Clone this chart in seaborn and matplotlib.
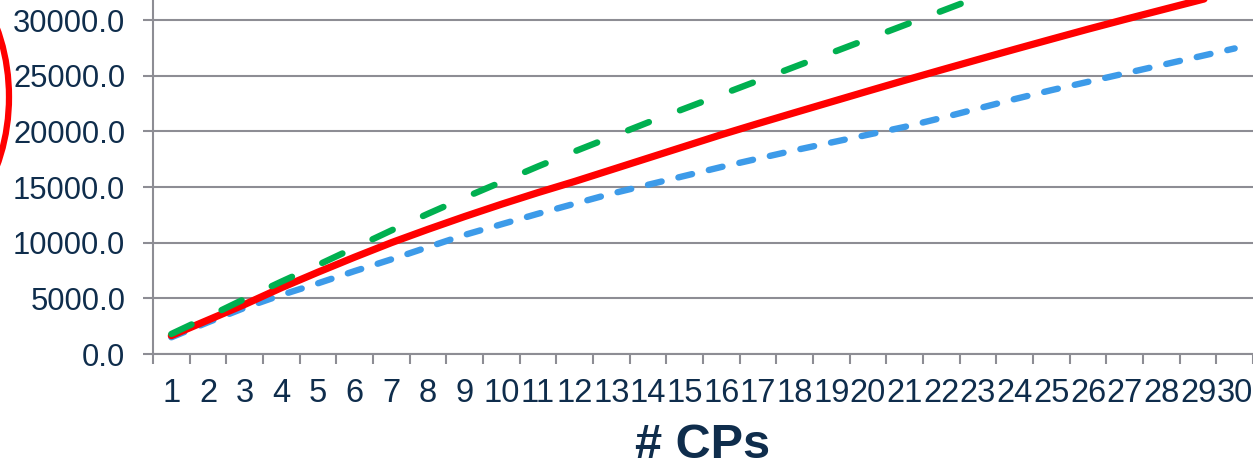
import matplotlib
matplotlib.use("Agg")
import matplotlib.pyplot as plt
from matplotlib.patches import Ellipse
from matplotlib.ticker import FixedLocator, FuncFormatter
import numpy as np
import pandas as pd
import seaborn as sns

# Number of control points on the x axis
cps = list(range(1, 31))
tick_labels = [str(c) for c in cps]

# Series values per number of CPs
solid_red = [1650, 3050, 4450, 5950, 7350, 8700, 10000, 11200, 12350, 13450,
             14500, 15500, 16550, 17600, 18650, 19700, 20700, 21680, 22650, 23620,
             24580, 25520, 26450, 27370, 28280, 29180, 30050, 30900, 31750, 32600]
dash_green = [1800, 3350, 4950, 6500, 8000, 9550, 11100, 12600, 14050, 15450,
              16850, 18200, 19500, 20800, 22050, 23300, 24550, 25800, 27050, 28300,
              29550, 30800, 32050, 33300, 34550, 35800, 37050, 38300, 39550, 40800]
dash_blue = [1500, 2850, 4150, 5300, 6350, 7450, 8500, 9600, 10700, 11650,
             12600, 13500, 14400, 15200, 16000, 16800, 17550, 18300, 19000, 19700,
             20400, 21200, 22050, 22900, 23700, 24450, 25200, 25950, 26700, 27450]

y_ticks = [0, 5000, 10000, 15000, 20000, 25000, 30000]

df = pd.DataFrame({"cps": cps, "red": solid_red, "green": dash_green, "blue": dash_blue})

sns.set_style("white")
plt.rcParams["font.family"] = ["Liberation Sans", "DejaVu Sans"]

TEXT = "#0F2D4C"
GREY = "#8D8D94"

fig = plt.figure(figsize=(12.53, 4.66), dpi=100)
fig.patch.set_facecolor("white")
ax = fig.add_axes([153 / 1253, 112 / 466, 1 - 153 / 1253, 354 / 466])

# Horizontal gridlines behind the series
ax.set_axisbelow(True)
ax.yaxis.grid(True, color=GREY, lw=1.5)
ax.xaxis.grid(False)

sns.lineplot(data=df, x="cps", y="blue", ax=ax, color="#3D9BE9", lw=4.6,
             linestyle=(0, (2.2, 2.7)), dash_capstyle="round")
sns.lineplot(data=df, x="cps", y="red", ax=ax, color="#FF0000", lw=5.2,
             solid_capstyle="round")
sns.lineplot(data=df, x="cps", y="green", ax=ax, color="#00B050", lw=4.6,
             linestyle=(0, (3.5, 5.2)), dash_capstyle="round")

ax.set_xlim(0.5, 30.5)
ax.set_ylim(0, 31800)

ax.xaxis.set_major_locator(FixedLocator(cps))
ax.set_xticklabels(tick_labels)
ax.xaxis.set_minor_locator(FixedLocator(np.arange(0.5, 31, 1.0)))
ax.yaxis.set_major_locator(FixedLocator(y_ticks))
ax.yaxis.set_major_formatter(FuncFormatter(lambda v, p: f"{v:.1f}"))

ax.tick_params(axis="x", which="major", length=0, pad=17, labelsize=23.5, labelcolor=TEXT)
ax.tick_params(axis="x", which="minor", length=7, width=1.5, color=GREY, direction="out", bottom=True)
ax.tick_params(axis="y", which="major", length=7, width=1.5, color=GREY, direction="out",
               pad=13, labelsize=22.3, labelcolor=TEXT, left=True)

for side in ("top", "right"):
    ax.spines[side].set_visible(False)
for side in ("left", "bottom"):
    ax.spines[side].set_color(GREY)
    ax.spines[side].set_linewidth(1.5)

ax.set_ylabel("")
ax.set_xlabel("# CPs", fontsize=35, fontweight="bold", color=TEXT, labelpad=10)

# Red highlight ring at the left edge
fig.add_artist(Ellipse((-99 / 1253, 1 - 97 / 466), 216 / 1253, 300 / 466,
                       transform=fig.transFigure, fill=False, edgecolor="#FF0000",
                       lw=4.5, clip_on=False))

fig.savefig("out.png", dpi=100, facecolor="white")
